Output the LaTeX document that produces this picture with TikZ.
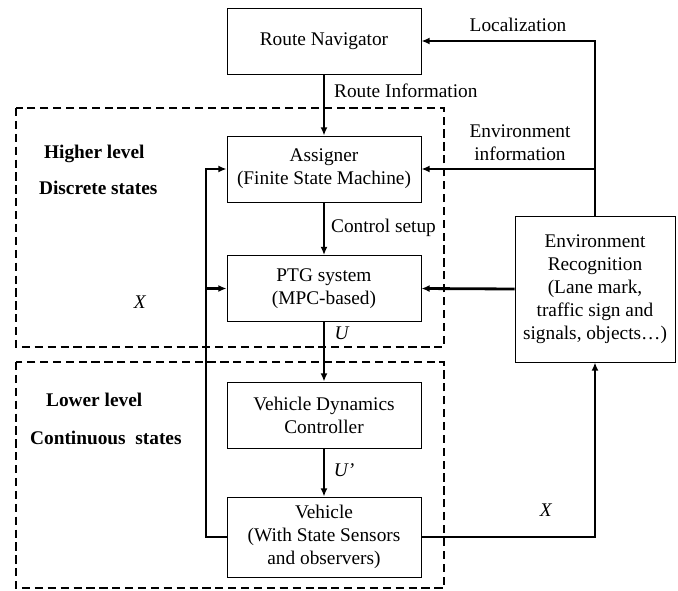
\documentclass[tikz,border=0pt]{standalone}
\usepackage{fontspec}
\setmainfont{Liberation Serif}
\usetikzlibrary{arrows.meta, positioning, calc}

\tikzset{
  blk/.style={draw, line width=0.8pt, minimum width=5.82cm, minimum height=1.98cm, align=center},
  flow/.style={-{Latex[length=7pt, width=6pt]}, line width=2.4pt},
  grp/.style={draw, line width=2pt, dash pattern=on 7pt off 4pt},
  lvl/.style={anchor=west, font=\fontsize{16.5}{19.5}\selectfont\bfseries},
}

\begin{document}
\begin{tikzpicture}[x=0.03cm, y=-0.03cm, font=\fontsize{16.5}{19.5}\selectfont]
      \useasboundingbox (0,0) rectangle (678,590);
      % dashed level frames
      \draw[grp] (16,108) rectangle (444,347);
      \draw[grp] (16,362) rectangle (444,588);
      \node[lvl] (hl) at (40,154) {Higher level};
      \node[lvl] (ds) at (35,188) {Discrete states};
      \node[lvl] (ll) at (42,400) {Lower level};
      \node[lvl] (cst) at (26,438) {Continuous\ \ states};
      % blocks
      \node[blk] (nav) at (324,41) {Route Navigator};
      \node[blk] (asg) at (324,169) {Assigner\\(Finite State Machine)};
      \node[blk] (ptg) at (324,288.5) {PTG system\\(MPC-based)};
      \node[blk] (vdc) at (324,415) {Vehicle Dynamics\\Controller};
      \node[blk, minimum height=2.4cm] (veh) at (324,537) {Vehicle\\(With State Sensors\\and observers)};
      \node[blk, minimum width=4.8cm, minimum height=4.38cm] (env) at (595,289) {Environment\\Recognition\\(Lane mark,\\traffic sign and\\signals, objects…)};
      \coordinate (fb) at (206,0);
      % signal flow
      \draw[flow] (nav) -- (asg);
      \draw[flow] (asg) -- (ptg);
      \draw[flow] (ptg) -- (vdc);
      \draw[flow] (vdc) -- (veh);
      \draw[flow] (env.north) |- (nav.east);
      \draw[flow] (env.north) |- (asg.east);
      \draw[flow] (env.west) -- (ptg.east);
      \draw[flow] (veh.east) -| (env.south);
      \draw[flow] (veh.west) -- (veh.west -| fb) |- (asg.west);
      \draw[flow] (ptg.west -| fb) -- (ptg.west);
      % labels
      \node[anchor=west] (ri) at (330,91) {Route Information};
      \node[anchor=west] (ctl) at (327,228) {Control setup};
      \node (u) at (342,333) {\textit{U}};
      \node (u2) at (344,470) {\textit{U’}};
      \node (loc) at (518,25) {Localization};
      \node[align=center] (ei) at (520,143) {Environment\\information};
      \node (x1) at (140,302) {\textit{X}};
      \node (x2) at (546,510) {\textit{X}};
    \end{tikzpicture}
\end{document}
